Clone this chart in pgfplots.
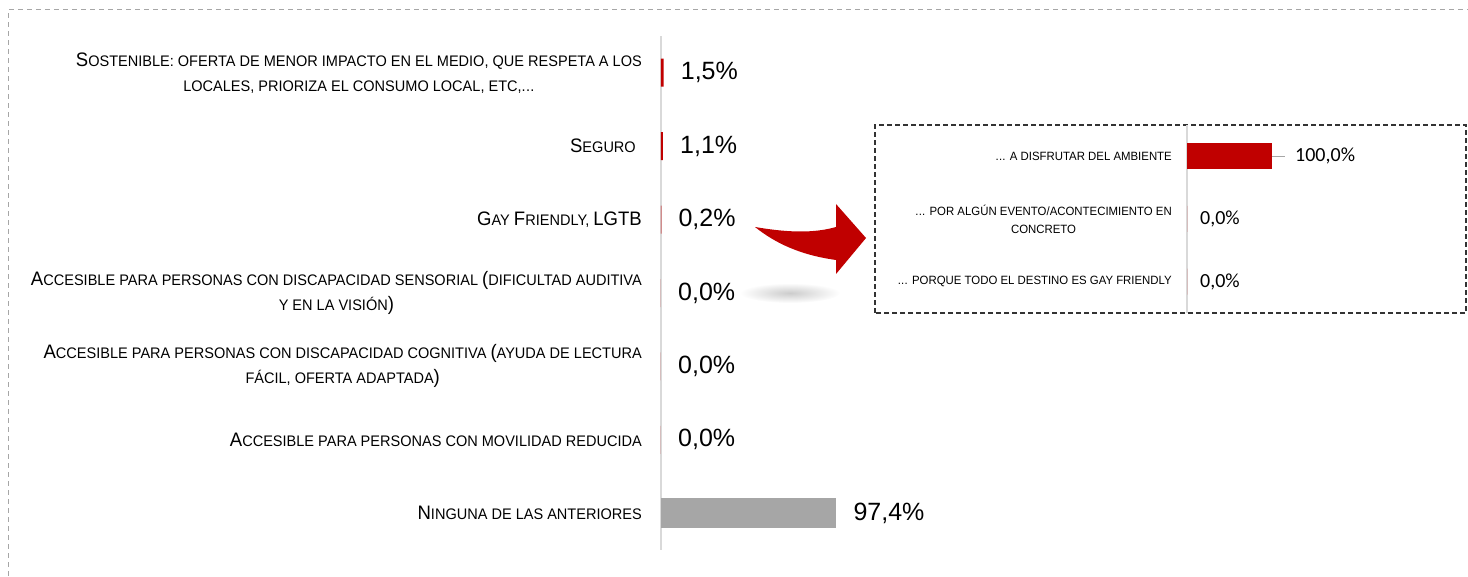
\documentclass[border=0pt]{standalone}
\usepackage{pgfplots}
\pgfplotsset{compat=1.18}
\usepackage{fontspec}
\setmainfont{Liberation Sans}[FakeStretch=0.95]
\newfontfamily\valfont{Liberation Sans}
\newfontfamily\insetvalfont{Carlito}
\definecolor{myred}{HTML}{C00000}
\definecolor{mygray}{HTML}{A6A6A6}
\definecolor{axgray}{HTML}{D9D9D9}
\newcommand{\dd}{.\kern0.3pt.\kern0.3pt.}
\newcommand{\B}[1]{{\fontsize{19.5}{25}\selectfont #1}}
\begin{document}
\begin{tikzpicture}[x=1pt,y=1pt]
\useasboundingbox (0,0) rectangle (1468,576);
\draw[gray!70, line width=1pt, dash pattern=on 5pt off 4pt] (8,0) -- (8,566) -- (1468,566);

% main chart
\begin{axis}[at={(661pt,26pt)}, anchor=south west, scale only axis,
  width=180pt, height=514pt, xmin=0, xmax=100, ymin=-0.5, ymax=6.5,
  y dir=reverse, enlargelimits=false, clip=false,
  axis line style={draw=none}, xtick=\empty, ytick={0,1,2,3,4,5,6}, major tick length=0pt,
  yticklabels={{\B{S}OSTENIBLE: OFERTA DE MENOR IMPACTO EN EL MEDIO, QUE RESPETA A LOS\\LOCALES, PRIORIZA EL CONSUMO LOCAL, ETC,\dd}, {\B{S}EGURO\hspace*{6pt}}, {\B{G}AY \B{F}RIENDLY, \B{LGTB}}, {\B{A}CCESIBLE PARA PERSONAS CON DISCAPACIDAD SENSORIAL \B{(}DIFICULTAD AUDITIVA\\Y EN LA VISIÓN\B{)}}, {\B{A}CCESIBLE PARA PERSONAS CON DISCAPACIDAD COGNITIVA \B{(}AYUDA DE LECTURA\\FÁCIL, OFERTA ADAPTADA\B{)}}, {\B{A}CCESIBLE PARA PERSONAS CON MOVILIDAD REDUCIDA}, {\B{N}INGUNA DE LAS ANTERIORES}},
  yticklabel style={font=\fontsize{15.3}{25}\selectfont, align=center, inner sep=0pt, xshift=-19pt},
  point meta=x,
  nodes near coords={\pgfmathprintnumber[assume math mode=true,fixed,fixed zerofill,precision=1,use comma]{\pgfplotspointmeta}\%},
  nodes near coords style={font=\valfont\fontsize{25}{30}\selectfont, anchor=west, inner sep=0pt, xshift=17pt},
]
\draw[axgray, line width=2pt] (axis cs:0,-0.5) -- (axis cs:0,6.5);
\addplot[xbar, bar shift=0pt, bar width=28pt, fill=myred, draw=none] coordinates {(1.5,0) (1.1,1) (0.2,2) (0,3) (0,4) (0,5)};
\addplot[xbar, bar shift=0pt, bar width=30pt, fill=mygray, draw=none] coordinates {(97.4,6)};
\end{axis}

% arrow and its soft shadow
\shade[inner color=gray!40, outer color=white] (790,283) ellipse (50 and 10);
\fill[myred] (755,349) .. controls (790,343) and (815,343) .. (836,349) -- (836,372) -- (866,338) -- (836,302) -- (836,316) .. controls (800,321) and (775,333) .. (755,349) -- cycle;

% inset
\draw[black!80, line width=1.2pt, dash pattern=on 5pt off 3pt] (875,263) rectangle (1466,451);
\begin{axis}[at={(1187pt,263pt)}, anchor=south west, scale only axis,
  width=85pt, height=188pt, xmin=0, xmax=100, ymin=-0.5, ymax=2.5,
  y dir=reverse, enlargelimits=false, clip=false,
  axis line style={draw=none}, xtick=\empty, ytick={0,1,2}, major tick length=0pt,
  yticklabels={{\dd{} A DISFRUTAR DEL AMBIENTE}, {\dd{} POR ALGÚN EVENTO/ACONTECIMIENTO EN\\CONCRETO}, {\dd{} PORQUE TODO EL DESTINO ES GAY FRIENDLY}},
  yticklabel style={font=\fontsize{12}{18}\selectfont, align=center, inner sep=0pt, xshift=-15pt},
  point meta=x,
  nodes near coords={\pgfmathprintnumber[assume math mode=true,fixed,fixed zerofill,precision=1,use comma]{\pgfplotspointmeta}\%},
  nodes near coords style={font=\insetvalfont\fontsize{20}{24}\selectfont, anchor=west, inner sep=0pt},
]
\draw[axgray, line width=2pt] (axis cs:0,-0.5) -- (axis cs:0,2.5);
\addplot[xbar, bar shift=0pt, bar width=26pt, fill=myred, draw=none, nodes near coords style={xshift=23pt}] coordinates {(100,0)};
\addplot[xbar, bar shift=0pt, bar width=26pt, fill=myred, draw=none, nodes near coords style={xshift=13pt}] coordinates {(0,1) (0,2)};
\draw[mygray, line width=1.5pt] (axis cs:100,0) -- ([xshift=13pt]axis cs:100,0);
\end{axis}
\end{tikzpicture}
\end{document}
